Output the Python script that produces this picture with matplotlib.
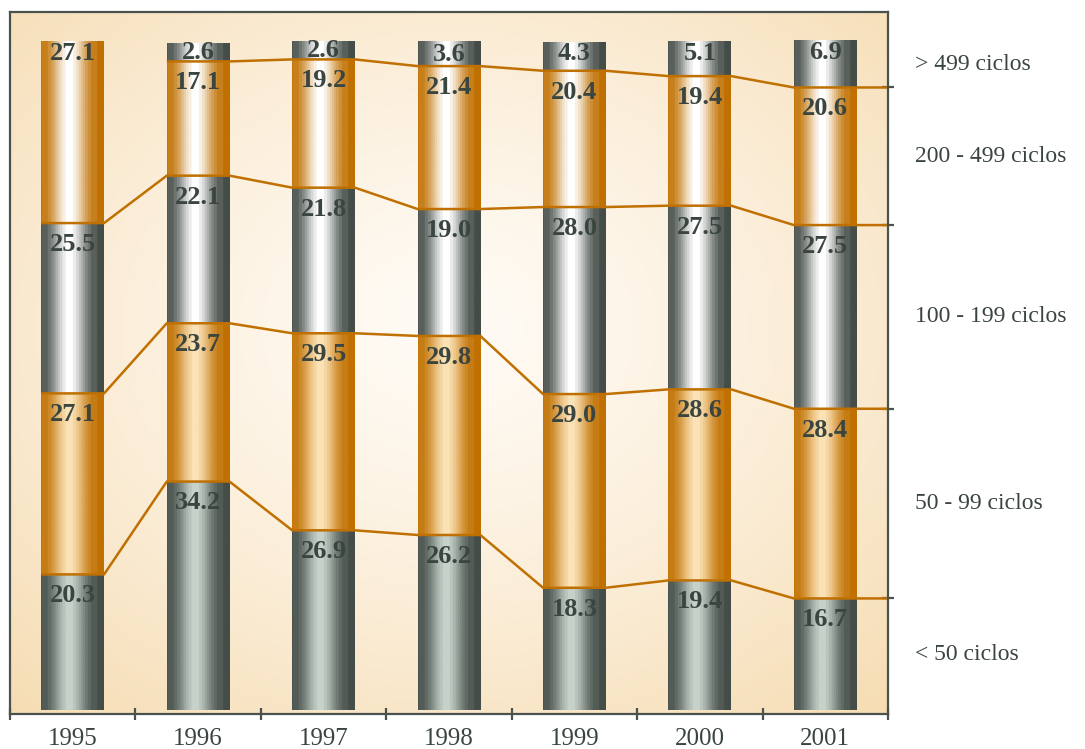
import numpy as np
import matplotlib
matplotlib.use('Agg')
import matplotlib.pyplot as plt
from matplotlib.colors import to_rgb

years = ['1995', '1996', '1997', '1998', '1999', '2000', '2001']
# de abajo hacia arriba
menos_50 = [20.3, 34.2, 26.9, 26.2, 18.3, 19.4, 16.7]
c50_99 = [27.1, 23.7, 29.5, 29.8, 29.0, 28.6, 28.4]
c100_199 = [25.5, 22.1, 21.8, 19.0, 28.0, 27.5, 27.5]
c200_499 = [27.1, 17.1, 19.2, 21.4, 20.4, 19.4, 20.6]
mas_499 = [0.0, 2.6, 2.6, 3.6, 4.3, 5.1, 6.9]
etiquetas = ['< 50 ciclos', '50 - 99 ciclos', '100 - 199 ciclos', '200 - 499 ciclos', '> 499 ciclos']

series = [menos_50, c50_99, c100_199, c200_499, mas_499]

gris_borde = '#454d48'
naranja_borde = '#c07000'
texto = '#3a4540'

fig = plt.figure(figsize=(10.85, 7.49), dpi=100)
ax = fig.add_axes([10/1085, 35/749, 878/1085, 702/749])

# fondo degradado
ny, nx = 200, 300
yy, xx = np.mgrid[0:1:ny*1j, 0:1:nx*1j]
r = np.sqrt(((xx - 0.5) / 0.75) ** 2 + ((yy - 0.55) / 0.75) ** 2)
r = np.clip(r, 0, 1)
c_in = np.array(to_rgb('#fffbf5'))
c_out = np.array(to_rgb('#f6dcb2'))
bg = c_in + (c_out - c_in) * r[..., None] ** 1.3
ax.imshow(bg, extent=[0, 1, 0, 1], transform=ax.transAxes, aspect='auto', zorder=0, origin='lower')


def cilindro(borde, centro, n=120):
    u = np.linspace(0, 1, n)
    p = np.exp(-((u - 0.45) / 0.26) ** 2)
    p = np.round(p * 9) / 9
    b = np.array(to_rgb(borde))
    c = np.array(to_rgb(centro))
    fila = b + (c - b) * p[:, None]
    return fila[None, :, :]


centros = ['#c6d2ca', '#fbe2b6', '#ffffff', '#ffffff', '#ffffff']
bordes = [gris_borde, naranja_borde, gris_borde, naranja_borde, gris_borde]

w = 0.5
x = np.arange(len(years))
acum = np.zeros(len(years))
limites = []
for k, vals in enumerate(series):
    vals = np.array(vals)
    img = cilindro(bordes[k], centros[k])
    for i in range(len(years)):
        if vals[i] <= 0:
            continue
        y0, y1 = acum[i], acum[i] + vals[i]
        ax.imshow(img, extent=[x[i] - w/2, x[i] + w/2, y0, y1], aspect='auto', zorder=2)
        tope = (k == len(series) - 1) or all(series[j][i] == 0 for j in range(k + 1, len(series)))
        if tope:
            yt = y1 - 1.7 if vals[i] > 4 else (y0 + y1) / 2
        else:
            yt = y1 - 3.2
        ax.text(x[i], yt, f'{vals[i]:.1f}', ha='center', va='center', fontsize=19,
                fontweight='bold', family='Liberation Serif', color=texto, zorder=5)
    acum = acum + vals
    limites.append(acum.copy())

# lineas entre segmentos
for k in range(len(series) - 1):
    yk = limites[k]
    arriba = np.array(series[k + 1])
    xs, ys = [], []
    for i in range(len(years)):
        if arriba[i] <= 0:
            continue
        xs += [x[i] - w/2, x[i] + w/2]
        ys += [yk[i], yk[i]]
    xs.append(len(years) - 0.5)
    ys.append(yk[-1])
    ax.plot(xs, ys, color=naranja_borde, lw=1.8, zorder=4, solid_capstyle='butt')

# etiquetas a la derecha
abajo = 0
for k, vals in enumerate(series):
    mid = abajo + vals[-1] / 2
    abajo += vals[-1]
    ax.text(6.715, mid, etiquetas[k], ha='left', va='center', fontsize=17,
            family='Liberation Serif', color=texto, clip_on=False)

ax.set_xlim(-0.5, len(years) - 0.5)
ax.set_ylim(-0.6, 104.5)

for s in ax.spines.values():
    s.set_color('#4a524d')
    s.set_linewidth(1.6)
    s.set_zorder(6)

ax.set_xticks(np.arange(-0.5, len(years), 1.0))
ax.set_xticklabels([])
ax.set_xticks(x, minor=True)
ax.set_xticklabels(years, minor=True, fontsize=18, family='Liberation Serif', color=texto)
ax.tick_params(axis='x', which='major', direction='inout', length=9, width=1.6, color='#4a524d')
ax.tick_params(axis='x', which='minor', length=0, pad=10)

ax.yaxis.tick_right()
ax.set_yticks([l[-1] for l in limites[:4]])
ax.set_yticklabels([])
ax.tick_params(axis='y', direction='inout', length=9, width=1.6, color='#4a524d')

fig.savefig('out.png', dpi=100)
